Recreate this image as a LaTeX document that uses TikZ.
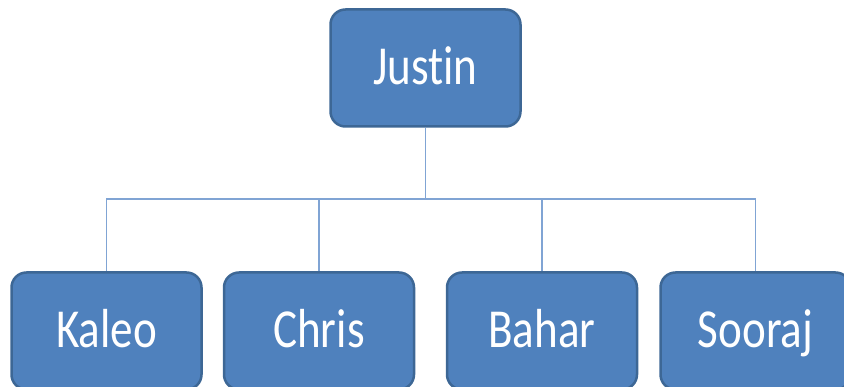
\documentclass[tikz,border=0pt]{standalone}
\usepackage{fontspec}
\setmainfont{Carlito}[FakeStretch=0.82,Ligatures=NoCommon]
\begin{document}
\begin{tikzpicture}[x=1pt,y=-1pt,
  person/.style={draw=boxedge, line width=2.5pt, fill=boxfill, rounded corners=15pt,
    minimum width=190pt, minimum height=117pt, text=white, font=\fontsize{55}{60}\selectfont,
    inner sep=0pt, text height=40pt, text depth=6pt},
  link/.style={draw=linkcol, line width=1.8pt}]
\definecolor{boxfill}{HTML}{4F81BD}
\definecolor{boxedge}{HTML}{3D6795}
\definecolor{linkcol}{HTML}{80A4D4}
\useasboundingbox (0,0) rectangle (844,387);
\node[person] (justin) at (425.5,68) {Justin};
\node[person] (kaleo) at (106.5,331) {Kaleo};
\node[person] (chris) at (319,331) {Chris};
\node[person] (bahar) at (542,331) {Bahar};
\node[person] (sooraj) at (755.5,331) {Sooraj};
\coordinate (hub) at (425.5,199);
\draw[link] (justin.south) -- (hub);
\draw[link] (kaleo.north) |- (hub);
\draw[link] (chris.north) |- (hub);
\draw[link] (bahar.north) |- (hub);
\draw[link] (sooraj.north) |- (hub);
\end{tikzpicture}
\end{document}
